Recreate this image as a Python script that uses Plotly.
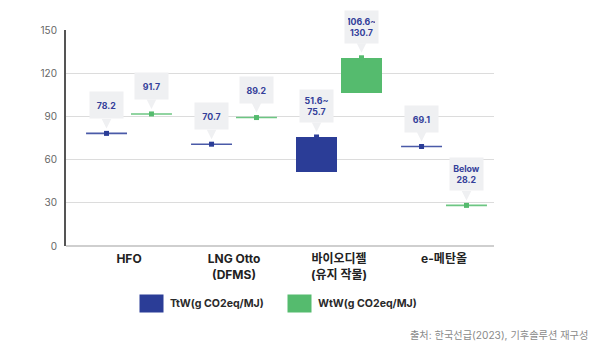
import plotly.graph_objects as go

categories = ["HFO", "LNG Otto<br>(DFMS)", "바이오디젤<br>(유지 작물)", "e-메탄올"]
ttw_low = [78.2, 70.7, 51.6, 69.1]
ttw_high = [78.2, 70.7, 75.7, 69.1]
wtw_low = [91.7, 89.2, 106.6, 28.2]
wtw_high = [91.7, 89.2, 130.7, 28.2]
ttw_labels = ["78.2", "70.7", "51.6~<br>75.7", "69.1"]
wtw_labels = ["91.7", "89.2", "106.6~<br>130.7", "Below<br>28.2"]
y_ticks = [0, 30, 60, 90, 120, 150]
series_names = ["TtW(g CO2eq/MJ)", "WtW(g CO2eq/MJ)"]
source_text = "출처: 한국선급(2023), 기후솔루션 재구성"

FONT = "Inter, Noto Sans CJK KR"
BLUE = "#2b3d97"
GREEN = "#55bb6e"
LINE_BLUE = "#4a5aa8"
LINE_GREEN = "#6cc682"
BOX = "#eff0f2"
TXT = "#34409a"
OFF = 0.214
HALF = 0.195

fig = go.Figure()
series = [
    (ttw_low, ttw_high, ttw_labels, -OFF, BLUE, LINE_BLUE),
    (wtw_low, wtw_high, wtw_labels, OFF, GREEN, LINE_GREEN),
]
for low, high, labels, off, col, lcol in series:
    xs = [i + off for i in range(len(categories))]
    fig.add_trace(go.Bar(
        x=xs, y=[h - l for l, h in zip(low, high)], base=low,
        width=2 * HALF, marker=dict(color=col, line=dict(width=0)),
        showlegend=False, hoverinfo="skip"))
    fig.add_trace(go.Scatter(
        x=xs, y=high, mode="markers",
        marker=dict(symbol="square", size=5, color=col),
        error_x=dict(type="data", symmetric=True,
                     array=[HALF if l == h else 0 for l, h in zip(low, high)],
                     width=0, thickness=1.6, color=lcol),
        showlegend=False))
    for x, y, t in zip(xs, high, labels):
        two = "<br>" in t
        fig.add_annotation(
            x=x, y=y, text="<b>" + t + "</b>", showarrow=True,
            ax=0, ay=-14, axref="pixel", ayref="pixel",
            yanchor="bottom", xanchor="center",
            arrowhead=2, arrowsize=1.9, arrowwidth=1, arrowcolor=BOX,
            standoff=5,
            bgcolor=BOX, borderpad=3, width=27, height=26 if two else 20,
            font=dict(family=FONT, size=8.8, color=TXT))

# custom legend
leg = [(0.1998, 0.2383, BLUE, series_names[0]), (0.5444, 0.584, GREEN, series_names[1])]
for sx, tx, col, name in leg:
    fig.add_annotation(x=sx, y=-0.2685, xref="paper", yref="paper", text=" ",
                       showarrow=False, bgcolor=col, width=23, height=17,
                       borderpad=0, xanchor="center", yanchor="middle")
    fig.add_annotation(x=tx, y=-0.2685, xref="paper", yref="paper",
                       text="<b>" + name + "</b>", showarrow=False,
                       xanchor="left", yanchor="middle",
                       font=dict(family=FONT, size=10.6, color="#2a2a2a"))

fig.add_annotation(x=1.2243, y=-0.412, xref="paper", yref="paper", text=source_text,
                   showarrow=False, xanchor="right", yanchor="middle",
                   font=dict(family=FONT, size=10.2, color="#8a8a8a"))

fig.update_layout(
    width=600, height=347, margin=dict(l=66, r=106, t=30, b=101),
    plot_bgcolor="white", paper_bgcolor="white", bargap=0,
    barmode="overlay",
    xaxis=dict(range=[-0.6, 3.476], tickmode="array",
               tickvals=list(range(len(categories))), ticktext=["<b>" + c + "</b>" for c in categories],
               showgrid=False, zeroline=False, showline=False, ticks="",
               ticklabelstandoff=4,
               tickfont=dict(family=FONT, size=12, color="#222222")),
    yaxis=dict(range=[0, 150], tickmode="array", tickvals=y_ticks,
               showgrid=True, gridcolor="#dcdcdc", gridwidth=1.3,
               zeroline=True, zerolinecolor="#cfcfcf", zerolinewidth=2,
               showline=True, linecolor="#555555", linewidth=2, ticks="",
               ticklabelstandoff=5,
               tickfont=dict(family=FONT, size=10, color="#666666")),
)
fig.write_html("out.html")
